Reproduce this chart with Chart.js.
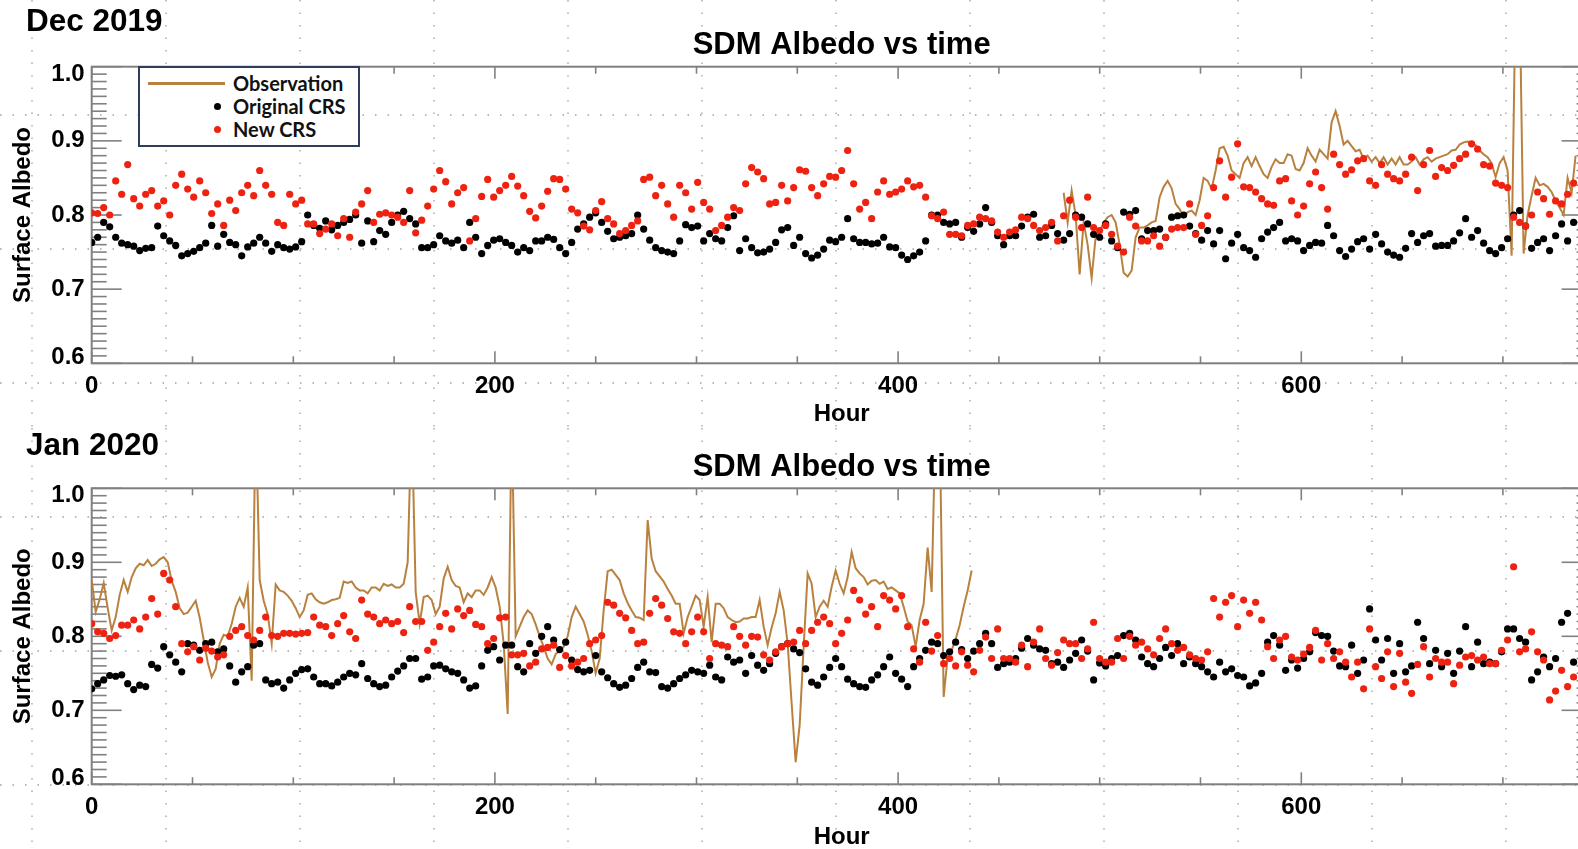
<!DOCTYPE html>
<html>
<head>
<meta charset="utf-8">
<title>SDM Albedo vs time</title>
<script src="https://cdn.jsdelivr.net/npm/chart.js@4.4.1/dist/chart.umd.min.js"></script>
<style>
  html, body { margin: 0; padding: 0; background: #fff; width: 1578px; height: 849px; overflow: hidden; }
  canvas { position: absolute; left: 0; }
  #decChart { top: 0; }
  #janChart { top: 428px; }
  .tag { position: absolute; left: 26px; font: bold 31.5px "Liberation Sans", Arial, sans-serif; line-height: 36px; color: #000; }
  #legend { position: absolute; left: 138px; top: 66px; width: 222px; height: 81px; box-sizing: border-box;
            border: 2px solid #2e3d5c; background: #fff; font: bold 20px Lato, "Open Sans", sans-serif; color: #111; }
  #legend .row { position: absolute; left: 0; width: 100%; height: 22px; }
  #legend .txt { position: absolute; left: 93px; top: 0; line-height: 22px; white-space: nowrap; }
  #legend .swatch-line { position: absolute; left: 8px; top: 10px; width: 77px; height: 2.5px; }
  #legend .swatch-dot { position: absolute; left: 74px; top: 7.5px; width: 7px; height: 7px; border-radius: 50%; }
</style>
</head>
<body>
<canvas id="decChart" width="1600" height="428"></canvas>
<canvas id="janChart" width="1600" height="421"></canvas>
<div class="tag" style="top:2px">Dec 2019</div>
<div class="tag" style="top:426px">Jan 2020</div>
<div id="legend"></div>
<script>
// Time axis: hours of the month
const HOURS = 744;
const xTicks = [0, 200, 400, 600];
const yTicks = [0.6, 0.7, 0.8, 0.9, 1.0];
const Y_MIN = 0.6, Y_MAX = 1.0;

// Model samples are spaced evenly through the month, observations twice as densely
const DOT_STEP = HOURS / 250;
const OBS_STEP = HOURS / 375;

// ---- December 2019 ----
const decOriginal = [
  .763,.770,.790,.784,.770,.762,.760,.758,.752,.755,.756,.785,.772,.765,.759,.745,.748,.751,.756,.762,.786,.758,.774,.763,.760,.745,.757,.762,.770,.762,.751,.760,.756,.754,.757,.764,.800,.786,.782,.792,.780,.786,.790,.794,.800,.762,.792,.764,.779,
  .774,.790,.800,.805,.795,.788,.756,.756,.760,.772,.765,.762,.766,.756,.790,.770,.748,.759,.766,.768,.763,.759,.750,.756,.752,.765,.765,.770,.767,.756,.748,.763,.781,.788,.797,.803,.790,.778,.768,.770,.772,.775,.800,.781,.766,.756,.752,.750,.748,.765,
  .787,.783,.785,.765,.775,.768,.765,.783,.799,.752,.768,.756,.749,.750,.754,.763,.780,.783,.759,.770,.748,.742,.746,.754,.766,.764,.770,.795,.768,.763,.763,.761,.762,.770,.757,.756,.746,.740,.745,.750,.765,.800,.800,.790,.788,.790,.770,.783,.778,.788,
  .810,.790,.772,.760,.772,.772,.785,.797,.801,.770,.772,.786,.775,.766,.775,.800,.797,.788,.774,.770,.788,.765,.756,.804,.801,.806,.768,.779,.779,.781,.770,.797,.799,.800,.785,.775,.766,.779,.761,.779,.741,.762,.774,.756,.752,.743,.768,.777,.783,.790,
  .765,.768,.765,.752,.759,.763,.762,.786,.772,.752,.744,.754,.764,.768,.754,.774,.761,.750,.746,.743,.755,.775,.763,.772,.775,.758,.759,.759,.765,.776,.795,.770,.779,.762,.752,.748,.756,.768,.800,.806,.785,.755,.763,.768,.752,.772,.788,.765,.790
];
const decNew = [
  .803,.802,.810,.800,.846,.828,.868,.822,.812,.828,.833,.812,.819,.800,.840,.855,.835,.824,.846,.830,.802,.815,.786,.820,.806,.830,.840,.826,.860,.840,.828,.790,.786,.828,.815,.820,.788,.788,.775,.781,.788,.772,.795,.770,.804,.815,.833,.790,.801,
  .803,.800,.797,.790,.833,.776,.793,.812,.835,.860,.845,.815,.830,.837,.765,.795,.825,.848,.824,.833,.840,.852,.839,.826,.805,.796,.812,.832,.849,.848,.835,.808,.803,.785,.780,.806,.818,.795,.788,.775,.779,.786,.792,.848,.851,.826,.840,.815,.797,.840,
  .830,.808,.844,.817,.808,.779,.786,.797,.810,.806,.842,.864,.858,.849,.815,.817,.840,.819,.837,.861,.859,.837,.826,.842,.852,.851,.860,.887,.842,.808,.817,.795,.831,.846,.828,.831,.835,.846,.838,.840,.824,.799,.795,.804,.774,.774,.772,.786,.788,.797,
  .795,.792,.777,.770,.777,.780,.797,.795,.786,.779,.783,.790,.765,.799,.820,.797,.783,.824,.783,.779,.786,.774,.758,.750,.797,.785,.765,.765,.772,.758,.770,.781,.783,.783,.815,.774,.786,.799,.837,.873,.824,.851,.896,.838,.837,.831,.822,.815,.813,.846,
  .849,.819,.800,.812,.842,.858,.837,.808,.882,.868,.855,.861,.873,.876,.846,.840,.868,.855,.849,.846,.855,.878,.833,.868,.887,.852,.864,.860,.867,.876,.882,.896,.889,.868,.866,.843,.840,.837,.797,.790,.785,.800,.831,.822,.801,.819,.815,.828,.843
];
// Observation record begins partway through December
const decObsFirst = 243;
const decObs = [
  .830,.790,.833,.800,.720,.790,.760,.715,.770,.778,.790,.797,.800,.790,.760,.722,.717,.725,.770,.783,
  .783,.786,.790,.792,.824,.838,.846,.836,.815,.808,.797,.804,.806,.800,.820,.850,.846,.835,.860,.890,
  .892,.880,.860,.855,.850,.870,.878,.866,.878,.866,.855,.850,.865,.875,.870,
  .870,.882,.880,.862,.860,.870,.890,.880,.872,.888,.882,.876,.925,.940,.920,.895,.900,.893,.886,.888,
  .876,.880,.872,.878,.870,.878,.868,.876,.868,.878,.868,.868,.872,.878,.868,.875,.878,.872,.876,.878,
  .880,.882,.887,.888,.895,.898,.899,.898,.894,.887,.882,.878,.870,.851,.870,.878,.860,.745,1.1,1.1,
  .748,.800,.826,.850,.840,.842,.838,.831,.819,.810,.800,.850,.830,.880
];

// ---- January 2020 ----
const janOriginal = [
  .729,.736,.741,.747,.746,.748,.736,.728,.734,.732,.762,.757,.786,.775,.765,.752,.790,.788,.781,.790,.792,.779,.783,.760,.738,.752,.759,.788,.790,.741,.736,.738,.730,.741,.750,.755,.756,.745,.736,.736,.733,.738,.745,.750,.748,.763,.743,.736,.732,
  .734,.745,.753,.760,.770,.770,.742,.745,.760,.761,.756,.752,.750,.741,.730,.733,.760,.781,.786,.768,.788,.788,.759,.752,.790,.777,.800,.813,.795,.782,.792,.768,.755,.752,.754,.774,.752,.744,.736,.731,.734,.743,.758,.765,.752,.751,.732,.730,.736,.743,
  .748,.754,.752,.750,.761,.745,.741,.772,.765,.768,.750,.774,.761,.754,.763,.777,.786,.790,.783,.778,.756,.738,.734,.745,.758,.770,.759,.742,.736,.732,.731,.741,.748,.759,.772,.750,.742,.732,.759,.770,.781,.792,.790,.774,.779,.792,.782,.770,.780,.790,
  .804,.790,.758,.763,.765,.770,.784,.797,.788,.783,.781,.763,.765,.758,.768,.777,.795,.780,.741,.764,.760,.770,.774,.801,.804,.795,.772,.763,.759,.770,.785,.774,.790,.763,.772,.763,.759,.752,.745,.765,.752,.756,.747,.745,.733,.737,.750,.792,.801,.788,
  .754,.768,.757,.770,.779,.805,.801,.800,.780,.760,.759,.788,.750,.768,.837,.795,.768,.797,.750,.790,.752,.760,.819,.797,.763,.781,.759,.777,.750,.780,.813,.759,.792,.763,.765,.763,.779,.810,.810,.797,.792,.741,.752,.772,.759,.770,.819,.831,.765
];
const janNew = [
  .817,.806,.804,.797,.801,.815,.815,.822,.810,.826,.851,.830,.885,.876,.840,.790,.779,.786,.768,.784,.780,.772,.775,.800,.808,.813,.801,.795,.808,.826,.801,.800,.804,.804,.803,.804,.805,.826,.815,.813,.801,.817,.828,.806,.797,.849,.830,.826,.817,
  .822,.817,.820,.805,.840,.820,.820,.781,.792,.813,.831,.810,.837,.828,.835,.816,.813,.790,.797,.825,.826,.775,.775,.777,.760,.765,.783,.785,.788,.758,.774,.760,.765,.770,.790,.795,.801,.846,.842,.831,.825,.808,.790,.792,.831,.851,.842,.824,.806,.804,
  .790,.806,.826,.806,.770,.790,.788,.786,.813,.800,.788,.800,.799,.775,.768,.779,.786,.790,.792,.808,.790,.808,.819,.826,.817,.790,.804,.822,.862,.849,.830,.840,.813,.855,.849,.837,.855,.813,.783,.765,.819,.780,.801,.763,.770,.760,.779,.761,.752,.781,
  .799,.770,.810,.770,.770,.765,.788,.759,.792,.810,.770,.761,.778,.795,.790,.790,.770,.783,.819,.770,.765,.765,.797,.770,.800,.788,.792,.783,.775,.797,.810,.790,.781,.785,.775,.770,.768,.779,.851,.826,.846,.855,.813,.849,.831,.846,.822,.786,.770,.795,
  .800,.772,.768,.776,.785,.808,.768,.790,.770,.779,.765,.745,.765,.729,.810,.759,.743,.779,.732,.777,.738,.723,.762,.786,.745,.770,.765,.765,.736,.761,.772,.774,.768,.772,.763,.763,.781,.795,.894,.779,.783,.806,.779,.768,.714,.726,.754,.732,.745
];
const janObsFirst = 0;
const janObs = [
  .876,.833,.850,.872,.838,.808,.826,.856,.876,.860,.880,.892,.898,.896,.903,.895,.898,.904,.907,.900,
  .875,.860,.838,.830,.832,.840,.848,.825,.795,.765,.745,.756,.790,.802,.800,.817,.840,.852,.840,.866,
  .740,1.1,.876,.848,.830,.790,.870,.862,.860,.855,.848,.838,.826,.835,.856,.858,.850,.846,.844,.846,
  .849,.850,.852,.874,.872,.874,.866,.862,.862,.858,.866,.866,.862,
  .871,.868,.870,.866,.866,.871,.900,1.1,.860,.817,.853,.855,.849,.830,.840,.878,.894,.876,.868,.866,
  .846,.858,.853,.862,.862,.856,.866,.880,.866,.840,.790,.695,1.1,.800,.813,.826,.835,.830,.816,.800,
  .786,.770,.762,.776,.780,.786,.800,.826,.840,.830,.820,.802,.780,.750,.770,.835,.888,.890,.883,.876,
  .858,.845,.835,.826,.825,.822,.957,.905,.888,.881,.874,.864,.855,.844,.844,
  .804,.826,.840,.855,.849,.813,.853,.792,.844,.844,.838,.826,.822,.819,.820,.824,.824,.826,.826,.849,
  .813,.788,.812,.831,.860,.835,.790,.709,.630,.680,.786,.885,.871,.826,.840,.848,.840,.867,.889,.871,
  .858,.880,.914,.892,.885,.880,.870,.875,.876,.871,.874,.864,.866,.862,.858,.840,.820,.815,.786,.822,
  .844,.920,.860,1.1,1.1,.718,.772,.781,.796,.815,.840,.862,.889
];

// ---- styling ----
const FONT = '"Liberation Sans", Arial, Helvetica, sans-serif';
const COLORS = { obs: '#b9813f', original: '#000000', fresh: '#ee2211', axis: '#808080', guide: '#a0a0a0' };
const LABELS = { obs: 'Observation', original: 'Original CRS', fresh: 'New CRS' };

function series(values, step, first) {
  return values.map((v, i) => ({ x: (first + i) * step, y: v }));
}

// faint dotted guide lattice behind both panels (page coordinates)
function guideLattice(pageTop) {
  return {
    id: 'guideLattice',
    beforeDraw(chart) {
      const ctx = chart.ctx;
      ctx.save();
      ctx.strokeStyle = COLORS.guide;
      ctx.lineWidth = 1.3;
      ctx.setLineDash([1.5, 11]);
      for (let gx = 32; gx < chart.width; gx += 134) {
        ctx.beginPath(); ctx.moveTo(gx, 0); ctx.lineTo(gx, chart.height); ctx.stroke();
      }
      for (let gy = 115 - 134; gy < 849; gy += 134) {
        const ly = gy - pageTop;
        if (ly < 0 || ly > chart.height) continue;
        ctx.beginPath(); ctx.moveTo(0, ly); ctx.lineTo(chart.width, ly); ctx.stroke();
      }
      ctx.restore();
    }
  };
}

// plot frame with inward major and minor ticks on all four sides
const frameTicks = {
  id: 'frameTicks',
  beforeDatasetsDraw(chart) {
    const { ctx, chartArea: a, scales: { x, y } } = chart;
    ctx.save();
    ctx.strokeStyle = COLORS.axis;
    ctx.lineWidth = 1.6;
    const seg = (x1, y1, x2, y2) => { ctx.beginPath(); ctx.moveTo(x1, y1); ctx.lineTo(x2, y2); ctx.stroke(); };
    for (let k = Math.round(Y_MIN * 100); k <= Math.round(Y_MAX * 100); k++) {
      const py = y.getPixelForValue(k / 100);
      const len = k % 10 === 0 ? 30 : 15;
      seg(a.left, py, a.left + len, py);
      seg(a.right, py, a.right - len, py);
    }
    for (let h = 0; h <= HOURS; h += 50) {
      const px = x.getPixelForValue(h);
      const len = h % 200 === 0 ? 12 : 7;
      seg(px, a.bottom, px, a.bottom - len);
      seg(px, a.top, px, a.top + len);
    }
    ctx.lineWidth = 2;
    ctx.strokeRect(a.left, a.top, a.right - a.left, a.bottom - a.top);
    ctx.restore();
  }
};

// value labels of the albedo axis; the end labels are kept inside the frame
const albedoLabels = {
  id: 'albedoLabels',
  afterDraw(chart) {
    const { ctx, chartArea: a, scales: { y } } = chart;
    ctx.save();
    ctx.font = 'bold 24px ' + FONT;
    ctx.fillStyle = '#000';
    ctx.textAlign = 'right';
    ctx.textBaseline = 'middle';
    yTicks.forEach(v => {
      const py = Math.min(Math.max(y.getPixelForValue(v), a.top + 7.5), a.bottom - 6);
      ctx.fillText(v.toFixed(1), a.left - 7, py);
    });
    ctx.restore();
  }
};

function makePanel(canvasId, cfg) {
  const bold24 = { family: FONT, size: 24, weight: 'bold' };
  return new Chart(document.getElementById(canvasId), {
    type: 'scatter',
    data: {
      datasets: [
        { key: 'fresh', label: LABELS.fresh, data: series(cfg.fresh, DOT_STEP, 0),
          backgroundColor: COLORS.fresh, borderWidth: 0, pointRadius: 3.6, order: 0 },
        { key: 'original', label: LABELS.original, data: series(cfg.original, DOT_STEP, 0),
          backgroundColor: COLORS.original, borderWidth: 0, pointRadius: 3.6, order: 1 },
        { key: 'obs', type: 'line', label: LABELS.obs, data: series(cfg.obs, OBS_STEP, cfg.obsFirst),
          borderColor: COLORS.obs, borderWidth: 2, pointRadius: 0, tension: 0, fill: false, order: 2 }
      ]
    },
    options: {
      responsive: false,
      animation: false,
      devicePixelRatio: 1,
      events: [],
      layout: { padding: { left: 0, right: 8.4, top: 0, bottom: 0 } },
      plugins: {
        legend: { display: false },
        tooltip: { enabled: false },
        title: {
          display: true, text: 'SDM Albedo vs time', fullSize: false, color: '#000',
          font: { family: FONT, size: 31, weight: 'bold' },
          padding: { top: cfg.titleTop, bottom: cfg.titleBottom }
        }
      },
      scales: {
        x: {
          type: 'linear', min: 0, max: HOURS,
          grid: { display: false, drawTicks: false }, border: { display: false },
          afterBuildTicks: s => { s.ticks = xTicks.map(v => ({ value: v })); },
          afterFit: s => { s.height = 64.7; },
          ticks: { color: '#000', font: bold24, padding: 9, maxRotation: 0 },
          title: { display: true, text: 'Hour', color: '#000', font: bold24, padding: { top: 0, bottom: cfg.hourPad } }
        },
        y: {
          min: Y_MIN, max: Y_MAX,
          grid: { display: false, drawTicks: false }, border: { display: false },
          afterBuildTicks: s => { s.ticks = yTicks.map(v => ({ value: v })); },
          afterFit: s => { s.width = 91.7; },
          ticks: { display: false },
          title: { display: true, text: 'Surface Albedo', color: '#000', font: bold24, padding: { top: 9, bottom: 0 } }
        }
      }
    },
    plugins: [guideLattice(cfg.pageTop), frameTicks, albedoLabels]
  });
}

const decChart = makePanel('decChart', {
  original: decOriginal, fresh: decNew, obs: decObs, obsFirst: decObsFirst,
  pageTop: 0, titleTop: 26.8, titleBottom: 2.7, hourPad: -1
});
makePanel('janChart', {
  original: janOriginal, fresh: janNew, obs: janObs, obsFirst: janObsFirst,
  pageTop: 428, titleTop: 20.5, titleBottom: 2.6, hourPad: -3
});

// legend for the December panel, built from its datasets
(function buildLegend() {
  const box = document.getElementById('legend');
  const order = ['obs', 'original', 'fresh'];
  order.forEach((key, i) => {
    const ds = decChart.data.datasets.find(d => d.key === key);
    const row = document.createElement('div');
    row.className = 'row';
    row.style.top = (4 + i * 23) + 'px';
    const sw = document.createElement('span');
    if (key === 'obs') { sw.className = 'swatch-line'; sw.style.background = ds.borderColor; }
    else { sw.className = 'swatch-dot'; sw.style.background = ds.backgroundColor; }
    const tx = document.createElement('span');
    tx.className = 'txt';
    tx.textContent = ds.label;
    row.appendChild(sw); row.appendChild(tx);
    box.appendChild(row);
  });
})();
</script>
</body>
</html>
